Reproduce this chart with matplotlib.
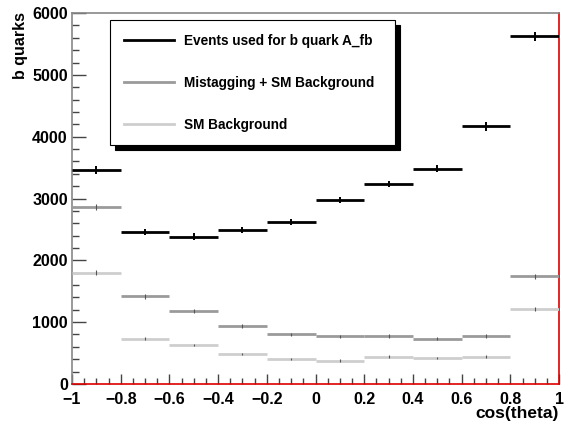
import matplotlib
matplotlib.use("Agg")
import matplotlib.pyplot as plt
from matplotlib.ticker import MultipleLocator
import numpy as np

plt.rcParams['font.family'] = ['Liberation Sans', 'DejaVu Sans']
plt.rcParams['font.weight'] = 'bold'

bin_edges = [-1.0, -0.8, -0.6, -0.4, -0.2, 0.0, 0.2, 0.4, 0.6, 0.8, 1.0]
events_used = [3460, 2455, 2385, 2490, 2620, 2975, 3235, 3485, 4165, 5625]
events_err = [60, 50, 50, 50, 50, 55, 55, 60, 65, 75]
mistag_sm = [2865, 1415, 1178, 940, 800, 768, 778, 730, 778, 1742]
mistag_err = [50, 38, 34, 30, 28, 27, 28, 27, 28, 40]
sm_bg = [1798, 730, 628, 487, 400, 378, 442, 416, 442, 1210]
sm_err = [40, 25, 22, 20, 18, 18, 19, 18, 19, 32]

labels = ["Events used for b quark A_fb", "Mistagging + SM Background", "SM Background"]
colors = ["#000000", "#9a9a9a", "#cecece"]
y_label = "b quarks"
x_label = "cos(theta)"

edges = np.array(bin_edges)
centers = 0.5 * (edges[:-1] + edges[1:])
halfw = 0.5 * (edges[1:] - edges[:-1])

fig = plt.figure(figsize=(5.64, 4.21), dpi=100)
ax = fig.add_axes([0.1277, 0.088, 0.8635, 0.881])

handles = []
for vals, errs, col, lab, lw in [(events_used, events_err, colors[0], labels[0], 2.0),
                                 (mistag_sm, mistag_err, colors[1], labels[1], 2.0),
                                 (sm_bg, sm_err, colors[2], labels[2], 2.0)]:
    ax.errorbar(centers, vals, xerr=halfw, fmt='none', ecolor=col,
                elinewidth=lw, capsize=0, zorder=3)
    ax.errorbar(centers, vals, yerr=errs, fmt='none',
                ecolor='#000000' if col == colors[0] else '#555555',
                elinewidth=1.4 if col == colors[0] else 0.8, capsize=0, zorder=4)
    handles.append(plt.Line2D([], [], color=col, lw=lw))

ax.set_xlim(-1, 1)
ax.set_ylim(0, 6000)
ax.xaxis.set_major_locator(MultipleLocator(0.2))
ax.xaxis.set_minor_locator(MultipleLocator(0.05))
ax.yaxis.set_major_locator(MultipleLocator(1000))
ax.yaxis.set_minor_locator(MultipleLocator(200))
ax.tick_params(axis='both', which='both', direction='in', top=False, right=False,
               colors='#444444', labelcolor='black', labelsize=11.5)
ax.tick_params(axis='x', which='major', length=7, width=1, pad=6)
ax.tick_params(axis='x', which='minor', length=4, width=1)
ax.tick_params(axis='y', which='major', length=10, width=1, pad=3)
ax.tick_params(axis='y', which='minor', length=5, width=1)
for lab in ax.get_xticklabels() + ax.get_yticklabels():
    lab.set_fontweight('bold')

ax.xaxis.set_major_formatter(matplotlib.ticker.FuncFormatter(
    lambda v, p: ("%g" % round(v, 2)).replace('-', '\u2212')))

ax.spines['left'].set_color('#888888')
ax.spines['top'].set_color('#888888')
ax.spines['bottom'].set_color('#dd0000')
ax.spines['right'].set_color('#dd0000')
for s in ax.spines.values():
    s.set_linewidth(1.2)

fig.text(0.036, 0.971, y_label, rotation=90, ha='center', va='top',
         fontsize=11.5, fontweight='bold')
fig.text(0.991, 0.0, x_label, ha='right', va='bottom',
         fontsize=12.5, fontweight='bold')

leg = ax.legend(handles, labels, loc='upper left',
                bbox_to_anchor=(0.078, 0.641, 0.585, 0.34), mode='expand',
                borderaxespad=0, fancybox=False, framealpha=1,
                edgecolor='black', handlelength=3.7, handletextpad=0.75,
                labelspacing=2.05, borderpad=1.0,
                prop={'size': 9.8, 'weight': 'bold'},
                shadow={'color': 'black', 'alpha': 1, 'ox': 3.5, 'oy': -3.5})
leg.get_frame().set_linewidth(0.8)

fig.savefig("out.png", dpi=100)
